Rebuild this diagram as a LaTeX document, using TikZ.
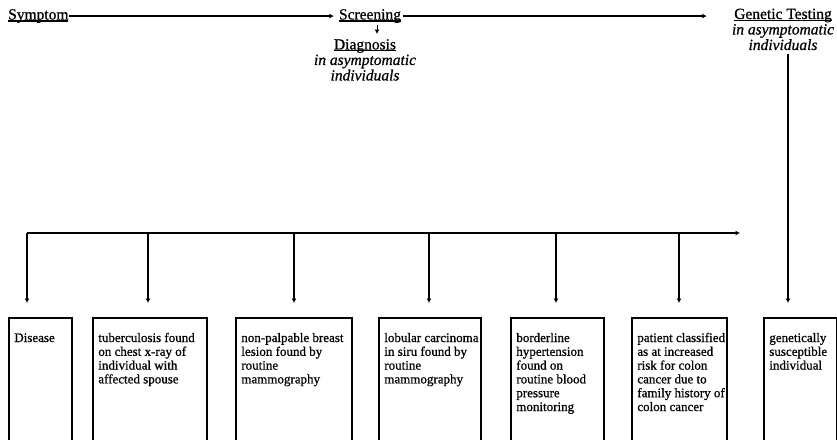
\documentclass[tikz,border=0pt]{standalone}
\usepackage{fontspec}
\setmainfont{Liberation Serif}[FakeBold=0.8]
\usetikzlibrary{arrows.meta,positioning,calc}

% underlined heading word
\newcommand{\headul}[1]{\leavevmode\setbox0=\hbox{#1}\rlap{\rule[-2pt]{\wd0}{1.1pt}}\box0}
% top-aligned text of a case box
\newcommand{\cell}[2]{\parbox[t][104pt][t]{#1}{\begin{tabular}[t]{@{}l@{}}#2\end{tabular}}}

\begin{document}
\begin{tikzpicture}[
  x=1pt, y=-1pt,
  head/.style={inner sep=0pt, align=center, font=\fontsize{15.5}{15.5}\selectfont},
  case/.style={draw, line width=1.7pt, anchor=north west, inner xsep=5.5pt, inner ysep=14.5pt,
    font=\fontsize{13}{13.8}\selectfont},
  arr/.style={-{Latex[length=4.5pt,width=5pt]}, line width=1.3pt},
  drop/.style={arr, line width=1.5pt, shorten >=14pt}
]
  \useasboundingbox (0,0) rectangle (837,439);
  \clip (0,0) rectangle (837,439);

  % headings
  \node[head, anchor=base west] (sym) at (8,19.5) {\headul{Symptom}};
  \node[head, anchor=base] (scr) at (370,19.5) {\headul{Screening}};
  \node[head, anchor=north] (diag) at (365,39) {\headul{Diagnosis}\\\textit{in asymptomatic}\\\textit{individuals}};
  \node[head, anchor=north] (gen) at (783,8.5) {\headul{Genetic Testing}\\\textit{in asymptomatic}\\\textit{individuals}};

  % cases
  \node[case] (dis) at (8,317) {\cell{52pt}{Disease}};
  \node[case] (tb) at (92,317) {\cell{103pt}{tuberculosis found\\on chest x-ray of\\individual with\\affected spouse}};
  \node[case] (np) at (235,317) {\cell{105pt}{non-palpable breast\\lesion found by\\routine\\mammography}};
  \node[case] (lob) at (378,317) {\cell{91pt}{lobular carcinoma\\in siru found by\\routine\\mammography}};
  \node[case] (bh) at (510,317) {\cell{82pt}{borderline\\hypertension\\found on\\routine blood\\pressure\\monitoring}};
  \node[case] (pc) at (631,317) {\cell{84pt}{patient classified\\as at increased\\risk for colon\\cancer due to\\family history of\\colon cancer}};
  \node[case] (gt) at (763,317) {\cell{62pt}{genetically\\susceptible\\individual}};

  % timeline
  \draw[arr, shorten >=5pt] (sym.east) -- (scr.west);
  \draw[arr, shorten <=2pt, shorten >=25pt] (scr.east) -- (scr.east -| gen.west);
  \draw[arr, line width=0.9pt, shorten <=2pt, shorten >=5pt] ([xshift=7pt]scr.south) -- ([xshift=7pt]scr.south |- diag.north);
  \draw[drop, shorten <=4pt] ([xshift=5pt]gen.south) -- ([xshift=5pt]gen.south |- gt.north);

  % branch bar
  \coordinate (b1) at (27,233);
  \coordinate (b2) at (148,233);
  \coordinate (b3) at (294,233);
  \coordinate (b4) at (429,233);
  \coordinate (b5) at (556,233);
  \coordinate (b6) at (679,233);
  \coordinate (bend) at (740,233);
  \draw[arr, line width=1.5pt] (b1) -- (bend);
  \foreach \c/\n in {b1/dis, b2/tb, b3/np, b4/lob, b5/bh, b6/pc}
    \draw[drop] (\c) -- (\c |- \n.north);
\end{tikzpicture}
\end{document}
